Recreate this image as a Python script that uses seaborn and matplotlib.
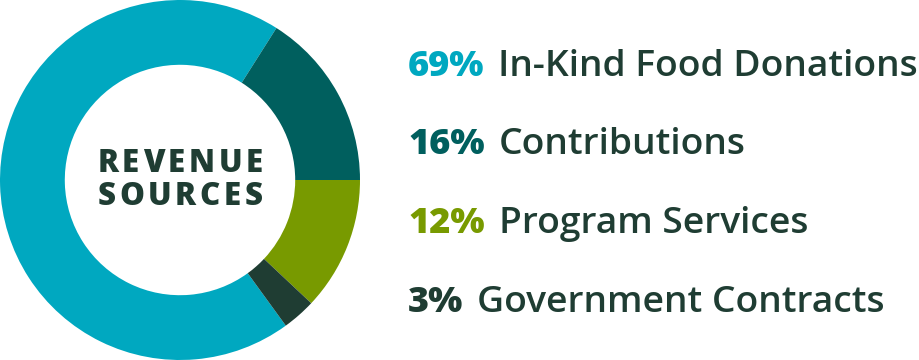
import matplotlib
matplotlib.use("Agg")
import matplotlib.pyplot as plt
import seaborn as sns

categories = ["In-Kind Food Donations", "Contributions", "Program Services", "Government Contracts"]
values = [69, 16, 12, 3]
pct_labels = ["69%", "16%", "12%", "3%"]
colors = ["#00A8C0", "#005F5E", "#789A00", "#1F3D33"]
text_color = "#1F3D33"
center_lines = ["REVENUE", "SOURCES"]

sns.set_theme(style="white")
plt.rcParams["font.family"] = ["Open Sans", "DejaVu Sans"]

fig = plt.figure(figsize=(9.2, 3.6), dpi=100)
fig.patch.set_facecolor("white")

ax = fig.add_axes([0.0, 0.0, 360 / 920, 1.0])
ax.pie(values, colors=colors, startangle=-54, counterclock=False, radius=1.0,
       wedgeprops=dict(width=0.36, edgecolor="none", linewidth=0))
ax.set_xlim(-1, 1)
ax.set_ylim(-1, 1)
ax.set_aspect("equal")
ax.axis("off")

# center text with letter spacing
fig.canvas.draw()
renderer = fig.canvas.get_renderer()
for line, yb in zip(center_lines, [188 / 360, 155 / 360]):
    fs = 22.5
    tracking = 3.6  # px
    widths = []
    for ch in line:
        t = fig.text(0, 0, ch, fontsize=fs, fontweight="heavy")
        widths.append(t.get_window_extent(renderer).width)
        t.remove()
    total = sum(widths) + tracking * (len(line) - 1)
    x = 180 - total / 2
    for ch, w in zip(line, widths):
        fig.text(x / 920, yb, ch, fontsize=fs, fontweight="heavy", color=text_color,
                 ha="left", va="baseline")
        x += w + tracking

# legend rows
baselines = [76, 154, 233, 312]
for pct, cat, col, yb in zip(pct_labels, categories, colors, baselines):
    t = fig.text(408 / 920, 1 - yb / 360, pct, fontsize=26, fontweight="heavy", color=col,
                 ha="left", va="baseline")
    w = t.get_window_extent(renderer).width
    fig.text((408 + w + 14) / 920, 1 - yb / 360, cat, fontsize=26.8, fontweight="semibold",
             color=text_color, ha="left", va="baseline")

fig.savefig("out.png", dpi=100, facecolor="white")
